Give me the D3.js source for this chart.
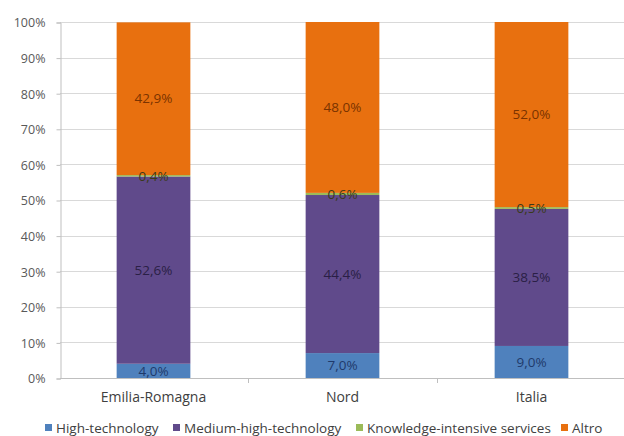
<!DOCTYPE html>
<html><head><meta charset="utf-8">
<script src="https://cdn.jsdelivr.net/npm/d3@7"></script>
<style>html,body{margin:0;padding:0;background:#fff;}svg{display:block;}</style>
</head><body>
<svg id="chart" width="624" height="436"></svg>
<script>
const categories = ["Emilia-Romagna", "Nord", "Italia"];
const seriesNames = ["High-technology", "Medium-high-technology", "Knowledge-intensive services", "Altro"];
const highTech = [4.0, 7.0, 9.0];
const mediumHighTech = [52.6, 44.4, 38.5];
const knowledgeServices = [0.4, 0.6, 0.5];
const altro = [42.9, 48.0, 52.0];
const yTicks = [0, 10, 20, 30, 40, 50, 60, 70, 80, 90, 100];

const colors = ["#4f81bd", "#604a8b", "#9bbb59", "#e8700f"];
const labelColors = ["#1f3a6b", "#2a1f45", "#3a3a1a", "#7a3300"];
const seriesVals = [highTech, mediumHighTech, knowledgeServices, altro];

const svg = d3.select("#chart");
const font = "'Open Sans', sans-serif";
const m = {left: 60, right: 624, top: 22, bottom: 378};

const x = d3.scaleBand().domain(categories).range([m.left - 1, m.right + 2]).paddingInner(0.61).paddingOuter(0.305);
const xOuter = d3.scaleBand().domain(categories).range([m.left - 1, m.right + 2]);
const y = d3.scaleLinear().domain([0, 100]).range([m.bottom, m.top]);

// gridlines
svg.append("g").selectAll("line").data(yTicks.slice(1)).join("line")
  .attr("x1", m.left).attr("x2", m.right)
  .attr("y1", d => Math.round(y(d)) + 0.5).attr("y2", d => Math.round(y(d)) + 0.5)
  .attr("stroke", "#d9d9d9").attr("stroke-width", 1);

// y axis
const yAxis = d3.axisLeft(y).tickValues(yTicks).tickFormat(d => d + "%").tickSize(4).tickPadding(11);
const gy = svg.append("g").attr("transform", `translate(${m.left + 0.5},0.5)`).call(yAxis);
gy.select(".domain").attr("stroke", "#bfbfbf");
gy.selectAll(".tick line").attr("stroke", "#bfbfbf");
gy.selectAll(".tick text").attr("fill", "#595959").style("font-family", font).style("font-size", "12.5px").attr("dy", "0.35em");

// stacked data
const stackData = categories.map((c, i) => {
  const o = {cat: c};
  seriesNames.forEach((s, j) => o[s] = seriesVals[j][i]);
  return o;
});
const stack = d3.stack().keys(seriesNames)(stackData);

const gBars = svg.append("g");
stack.forEach((layer, j) => {
  gBars.append("g").selectAll("rect").data(layer).join("rect")
    .attr("x", d => x(d.data.cat))
    .attr("width", x.bandwidth())
    .attr("y", d => y(d[1]))
    .attr("height", d => y(d[0]) - y(d[1]))
    .attr("fill", colors[j]);
});

// x axis
const xAxis = d3.axisBottom(xOuter).tickSize(0).tickPadding(14);
const gx = svg.append("g").attr("transform", `translate(0,${m.bottom + 0.5})`).call(xAxis);
gx.select(".domain").attr("stroke", "#bfbfbf").attr("d", `M${m.left},0H${m.right}`);
gx.selectAll(".tick text").attr("fill", "#404040").style("font-family", font).style("font-size", "14px");
// boundary tick marks
const bounds = categories.map(c => xOuter(c)).concat([xOuter(categories[2]) + xOuter.bandwidth()]);
svg.append("g").selectAll("line").data(bounds.slice(1, 3)).join("line")
  .attr("x1", d => Math.round(d) + 0.5).attr("x2", d => Math.round(d) + 0.5)
  .attr("y1", m.bottom).attr("y2", m.bottom + 5).attr("stroke", "#bfbfbf");

// data labels
const fmt = v => d3.format(".1f")(v).replace(".", ",") + "%";
stack.forEach((layer, j) => {
  svg.append("g").selectAll("text").data(layer).join("text")
    .attr("x", d => x(d.data.cat) + x.bandwidth() / 2)
    .attr("y", d => (y(d[0]) + y(d[1])) / 2)
    .attr("dy", "0.35em")
    .attr("text-anchor", "middle")
    .attr("fill", labelColors[j])
    .style("font-family", font).style("font-size", "13.5px")
    .text(d => fmt(d[1] - d[0]));
});

// legend
const legendX = [45, 173, 356, 561];
const lg = svg.append("g");
seriesNames.forEach((s, j) => {
  lg.append("rect").attr("x", legendX[j]).attr("y", 424).attr("width", 7).attr("height", 7).attr("fill", colors[j]);
  lg.append("text").attr("x", legendX[j] + 11).attr("y", 428).attr("dy", "0.35em")
    .attr("fill", "#404040").style("font-family", font).style("font-size", "13.5px").text(s);
});
</script>
</body></html>
